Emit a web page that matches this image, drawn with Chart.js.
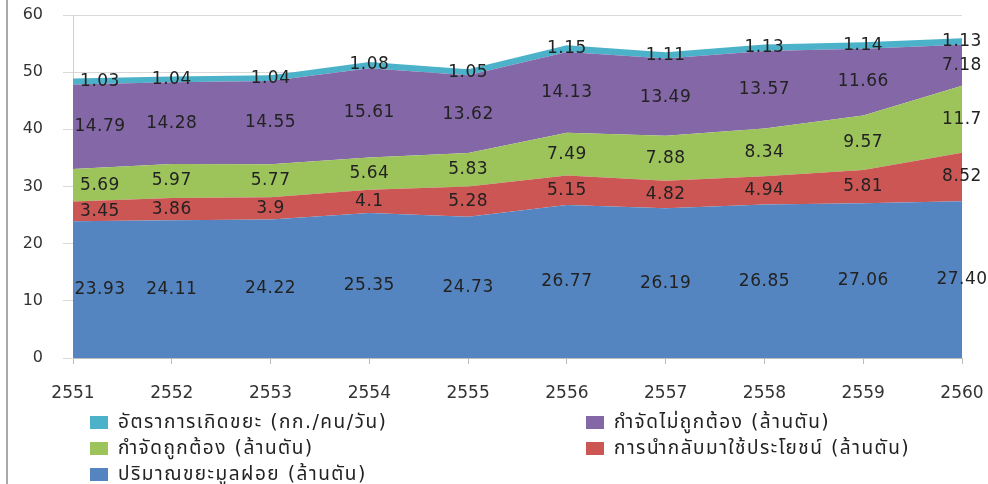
<!DOCTYPE html>
<html>
<head>
<meta charset="utf-8">
<script src="https://cdn.jsdelivr.net/npm/chart.js@4.4.1/dist/chart.umd.min.js"></script>
<style>
  html, body { margin: 0; padding: 0; background: #fff; }
  #wrap { position: relative; width: 988px; height: 484px; overflow: hidden; }
  #frame { position: absolute; left: 6px; top: 0; width: 2px; height: 484px; background: #a9a9a9; }
  #legend {
    position: absolute; left: 90px; top: 409px;
    display: grid; grid-auto-flow: column;
    grid-template-rows: repeat(3, 26px); grid-template-columns: 496px 380px;
    font: 19px "DejaVu Sans", "Noto Sans", "Noto Sans Thai", sans-serif; color: #222;
    letter-spacing: 1.5px;
  }
  #legend .item { display: flex; align-items: center; white-space: nowrap; }
  #legend .box { width: 18px; height: 13px; margin-right: 10px; flex: none; }
</style>
</head>
<body>
<div id="wrap">
  <canvas id="chartWaste" width="988" height="484"></canvas>
  <div id="frame"></div>
  <div id="legend"></div>
</div>
<script>
// ขยะมูลฝอย 2551-2560 — stacked area

const YEARS = ["2551", "2552", "2553", "2554", "2555", "2556", "2557", "2558", "2559", "2560"];

const WASTE_TOTAL = [23.93, 24.11, 24.22, 25.35, 24.73, 26.77, 26.19, 26.85, 27.06, 27.40];
const RECYCLED = [3.45, 3.86, 3.9, 4.1, 5.28, 5.15, 4.82, 4.94, 5.81, 8.52];
const PROPER_DISPOSAL = [5.69, 5.97, 5.77, 5.64, 5.83, 7.49, 7.88, 8.34, 9.57, 11.7];
const IMPROPER_DISPOSAL = [14.79, 14.28, 14.55, 15.61, 13.62, 14.13, 13.49, 13.57, 11.66, 7.18];
const RATE_PER_PERSON = [1.03, 1.04, 1.04, 1.08, 1.05, 1.15, 1.11, 1.13, 1.14, 1.13];

const Y_MIN = 0;
const Y_MAX = 60;
const Y_STEP = 10;

const FONT = "'DejaVu Sans', 'Noto Sans', 'Noto Sans Thai', sans-serif";
const TEXT = "#222";

// legend order (column by column)
const LEGEND_ORDER = [4, 2, 0, 3, 1];

const stackLabels = {
  id: "stackLabels",
  afterDatasetsDraw(chart) {
    const { ctx } = chart;
    const y = chart.scales.y;
    ctx.save();
    ctx.font = "17px " + FONT;
    ctx.letterSpacing = "0.5px";
    ctx.fillStyle = TEXT;
    ctx.textAlign = "center";
    ctx.textBaseline = "middle";
    chart.data.datasets.forEach((ds, di) => {
      const meta = chart.getDatasetMeta(di);
      const prev = di > 0 ? chart.getDatasetMeta(di - 1) : null;
      meta.data.forEach((pt, i) => {
        const base = prev ? prev.data[i].y : y.getPixelForValue(0);
        const v = ds.data[i];
        const txt = ds.decimals ? v.toFixed(ds.decimals) : String(v);
        const x = i === 0 ? pt.x + 27 : pt.x;
        ctx.fillText(txt, x, (pt.y + base) / 2);
      });
    });
    ctx.restore();
  },
};

function area(label, data, color, decimals) {
  return {
    label,
    data,
    decimals,
    backgroundColor: color,
    borderColor: color,
    borderWidth: 0,
    pointRadius: 0,
    pointHoverRadius: 0,
    tension: 0,
    fill: "-1",
  };
}

const datasets = [
  area("ปริมาณขยะมูลฝอย (ล้านตัน)", WASTE_TOTAL, "#5585c0", 2),
  area("การนำกลับมาใช้ประโยชน์ (ล้านตัน)", RECYCLED, "#cc5654", 0),
  area("กำจัดถูกต้อง (ล้านตัน)", PROPER_DISPOSAL, "#9dc35b", 0),
  area("กำจัดไม่ถูกต้อง (ล้านตัน)", IMPROPER_DISPOSAL, "#8467a6", 2),
  area("อัตราการเกิดขยะ (กก./คน/วัน)", RATE_PER_PERSON, "#4bb2c9", 2),
];
datasets[0].fill = "origin";

const chart = new Chart(document.getElementById("chartWaste"), {
  type: "line",
  data: { labels: YEARS, datasets },
  options: {
    responsive: false,
    animation: false,
    layout: { padding: { top: 15, right: 26, left: 0, bottom: 0 } },
    plugins: { legend: { display: false }, tooltip: { enabled: false } },
    scales: {
      x: {
        offset: false,
        grid: { drawOnChartArea: false, tickLength: 6, color: "#bdbdbd" },
        border: { color: "#bdbdbd" },
        ticks: { color: "#333", font: { family: FONT, size: 17 }, padding: 19, maxRotation: 0 },
        afterFit: (s) => {
          s.height = 126;
          s.paddingLeft = 0;
          s.paddingRight = 0;
        },
      },
      y: {
        stacked: true,
        min: Y_MIN,
        max: Y_MAX,
        grid: { color: "#d9d9d9", tickLength: 10 },
        border: { color: "#d0d0d0" },
        ticks: { stepSize: Y_STEP, color: "#333", font: { family: FONT, size: 16 }, padding: 20 },
        afterFit: (s) => {
          s.width = 73;
          s.paddingTop = 0;
          s.paddingBottom = 0;
        },
      },
    },
  },
  plugins: [stackLabels],
});

// legend in two columns, built from the chart's datasets
const legendEl = document.getElementById("legend");
LEGEND_ORDER.forEach((idx) => {
  const ds = chart.data.datasets[idx];
  const item = document.createElement("div");
  item.className = "item";
  const box = document.createElement("span");
  box.className = "box";
  box.style.background = ds.backgroundColor;
  const txt = document.createElement("span");
  txt.textContent = ds.label;
  item.appendChild(box);
  item.appendChild(txt);
  legendEl.appendChild(item);
});
</script>
</body>
</html>
